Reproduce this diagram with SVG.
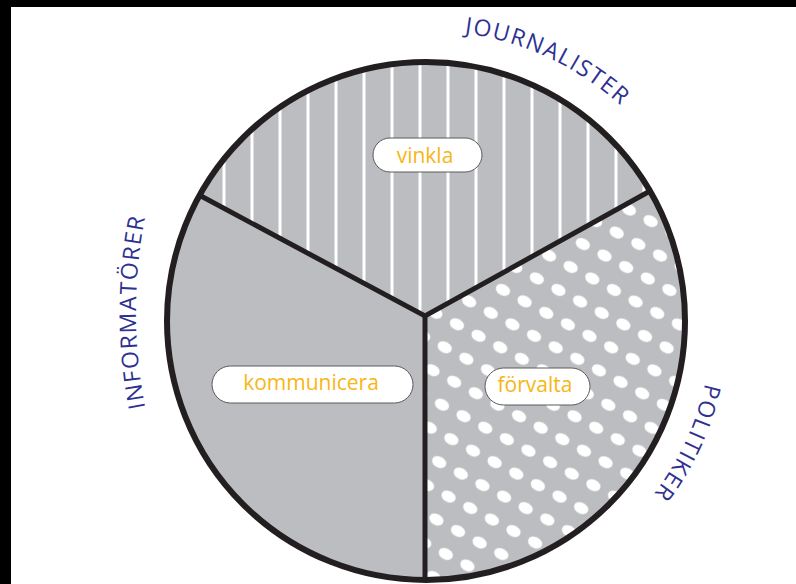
<svg xmlns="http://www.w3.org/2000/svg" width="796" height="584" viewBox="0 0 796 584">
  <defs>
    <style>
      .sector { stroke: none; }
      .pill { fill: #ffffff; stroke: #5a5a5a; stroke-width: 1; }
      .lbl { font-family: "Open Sans", "Noto Sans", "Liberation Sans", sans-serif; font-size: 21px; fill: #f8b614; text-anchor: middle; }
      .arc { font-family: "Open Sans", "Noto Sans", "Liberation Sans", sans-serif; font-size: 23px; fill: #2e3192; letter-spacing: 1.5px; }
      .div { stroke: #231f20; stroke-width: 5; fill: none; stroke-linecap: butt; }
    </style>
    <pattern id="stripes" patternUnits="userSpaceOnUse" x="250.5" y="0" width="28" height="20">
      <rect x="0" y="0" width="28" height="20" fill="#bbbdc0"/>
      <rect x="0" y="0" width="3" height="20" fill="#ffffff"/>
    </pattern>
    <pattern id="dots" patternUnits="userSpaceOnUse" x="0" y="0" width="24.5" height="26" patternTransform="translate(440,330) rotate(28)">
      <rect x="0" y="0" width="24.5" height="26" fill="#bbbdc0"/>
      <ellipse cx="12.25" cy="13" rx="7.5" ry="5.5" fill="#ffffff"/>
    </pattern>
    <path id="pJour" d="M350.9,41 A289,289 0 0,1 688.9,198.4"/>
    <path id="pPol" d="M702.3,247 A286,286 0 0,1 546.9,580.2"/>
    <path id="pInf" d="M153,441.4 A500,500 0 0,1 153,182.6"/>
  </defs>

  <rect x="0" y="0" width="796" height="584" fill="#ffffff"/>
  <rect x="0" y="0" width="796" height="7" fill="#000000"/>
  <rect x="0" y="0" width="11" height="584" fill="#000000"/>

  <g id="journalister">
    <path class="sector" fill="url(#stripes)" d="M425,316 L201,196 A259,259 0 0,1 650,191 Z"/>
    <rect class="pill" x="373" y="138" width="109" height="34" rx="17" ry="17"/>
    <text class="lbl" x="425" y="163">vinkla</text>
    <text class="arc"><textPath href="#pJour" startOffset="50%" text-anchor="middle">JOURNALISTER</textPath></text>
  </g>

  <g id="politiker">
    <path class="sector" fill="url(#dots)" d="M425,316 L650,191 A259,259 0 0,1 425,580 Z"/>
    <rect class="pill" x="485" y="368" width="105" height="37" rx="18.5" ry="18.5"/>
    <text class="lbl" x="535" y="392">förvalta</text>
    <text class="arc"><textPath href="#pPol" startOffset="50%" text-anchor="middle">POLITIKER</textPath></text>
  </g>

  <g id="informatorer">
    <path class="sector" fill="#bbbdc0" d="M425,316 L425,580 A259,259 0 0,1 201,196 Z"/>
    <rect class="pill" x="212" y="366" width="201" height="37" rx="18.5" ry="18.5"/>
    <text class="lbl" x="311" y="390">kommunicera</text>
    <text class="arc"><textPath href="#pInf" startOffset="50%" text-anchor="middle">INFORMATÖRER</textPath></text>
  </g>

  <g id="connectors">
    <circle cx="426" cy="321" r="259" fill="none" stroke="#231f20" stroke-width="6"/>
    <path class="div" d="M201,196 L425,316 L650,191"/>
    <path class="div" d="M425,316 L425,580"/>
  </g>
</svg>
